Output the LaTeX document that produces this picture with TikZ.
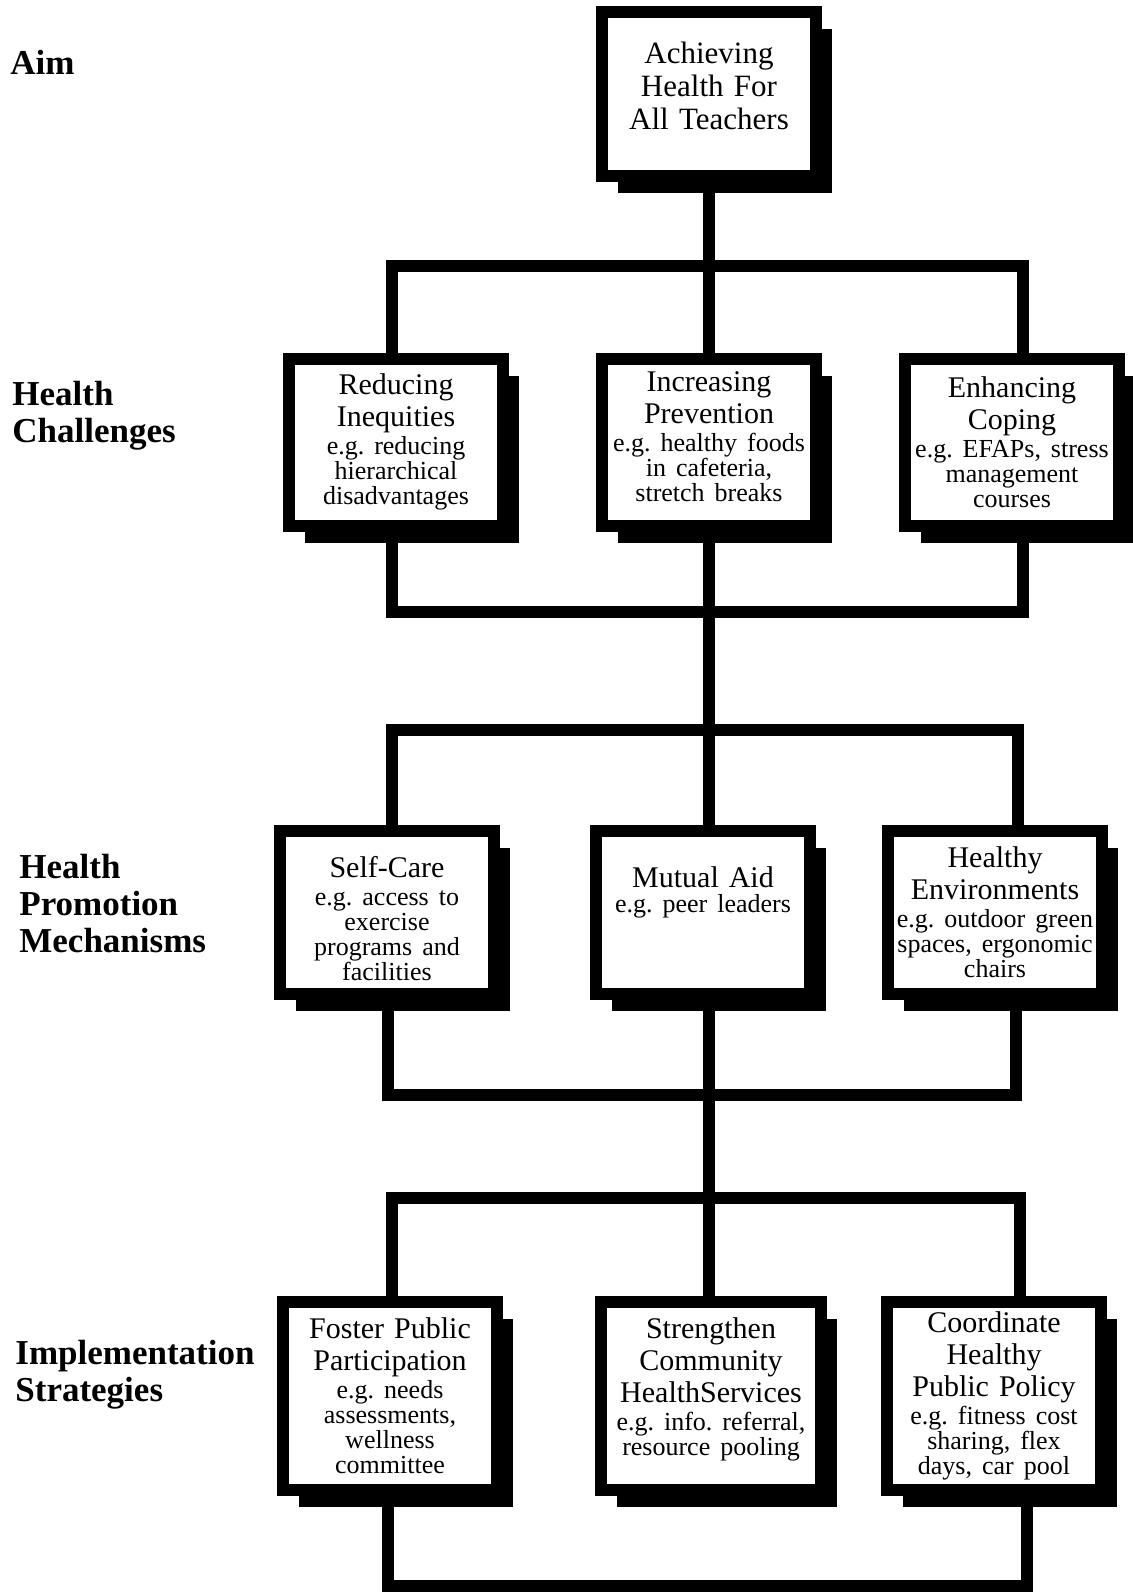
\documentclass[tikz,border=0pt]{standalone}
\usepackage{fontspec}
\setmainfont{Liberation Serif}
\usetikzlibrary{shadows}
\frenchspacing

\newcommand{\ttlfont}{\fontsize{15}{16}\selectfont}
\newcommand{\egfont}{\fontsize{13}{12.5}\selectfont}
\newcommand{\lvlfont}{\fontsize{17.5}{18.5}\selectfont\bfseries}
% extra room under the text of a box
\newcommand{\botpad}[1]{\par\vspace{#1}\null}

\begin{document}
\begin{tikzpicture}[x=0.5pt, y=-0.5pt,
    block/.style={
        draw, line width=6pt, fill=white, align=center,
        text width=104pt, minimum width=107pt, inner xsep=0pt, inner ysep=0pt,
        font=\ttlfont,
        general shadow={fill=black, shadow xshift=8pt, shadow yshift=-8.5pt}
    },
    level/.style={font=\lvlfont, align=left, inner sep=0pt, anchor=north west},
    wire/.style={line width=6pt},
]
\useasboundingbox (0,0) rectangle (1133,1595);

% ---------- level names ----------
\node[level] (lAim) at (10,50) {Aim};
\node[level] (lChal) at (12,381) {Health\\Challenges};
\node[level] (lMech) at (19,854) {Health\\Promotion\\Mechanisms};
\node[level] (lStrat) at (15,1340) {Implementation\\Strategies};

% ---------- aim ----------
\node[block, minimum height=82pt, font=\fontsize{15.5}{16.5}\selectfont] (aim) at (709,94)
    {Achieving\\ Health For\\ All Teachers\botpad{-8.5pt}};

% ---------- health challenges ----------
\node[block, minimum height=83.5pt] (red) at (396,442)
    {Reducing\\ Inequities\par\vspace{1.5pt}\egfont e.g. reducing\\ hierarchical\\ disadvantages\par};
\node[block, minimum height=83.5pt] (inc) at (709,442)
    {Increasing\\ Prevention\par\vspace{1.5pt}\egfont e.g. healthy foods\\ in cafeteria,\\ stretch breaks\botpad{-7.5pt}};
\node[block, minimum height=83.5pt] (enh) at (1012,442)
    {Enhancing\\ Coping\par\vspace{1.5pt}\egfont e.g. EFAPs, stress\\ management\\ courses\par};

% ---------- mechanisms ----------
\node[block, minimum height=81.5pt] (self) at (387,912)
    {Self-Care\par\vspace{1.5pt}\egfont e.g. access to\\ exercise\\ programs and\\ facilities\botpad{-18.5pt}};
\node[block, minimum height=81.5pt] (mut) at (703,912)
    {Mutual Aid\par\egfont e.g. peer leaders\botpad{10pt}};
\node[block, minimum height=81.5pt] (env) at (995,912)
    {Healthy\\ Environments\par\vspace{1.5pt}\egfont e.g. outdoor green\\ spaces, ergonomic\\ chairs\par};

% ---------- strategies ----------
\node[block, minimum height=94pt] (fos) at (390,1396)
    {Foster Public\\ Participation\par\vspace{1.5pt}\egfont e.g. needs\\ assessments,\\ wellness\\ committee\par};
\node[block, minimum height=94pt, minimum width=110pt] (str) at (711,1396)
    {Strengthen\\ Community\\ HealthServices\par\vspace{1.5pt}\egfont e.g. info. referral,\\ resource pooling\botpad{-3.5pt}};
\node[block, minimum height=94pt] (coo) at (994,1396)
    {Coordinate\\ Healthy\\ Public Policy\par\vspace{1.5pt}\egfont e.g. fitness cost\\ sharing, flex\\ days, car pool\par};

% ---------- connectors ----------
\coordinate (t1l) at (392,266);
\coordinate (t1r) at (1023,266);
\coordinate (b1l) at (392,612);
\coordinate (b1r) at (1023,612);
\coordinate (t2l) at (392,730);
\coordinate (t2r) at (1018,730);
\coordinate (b2l) at (388,1095);
\coordinate (b2r) at (1016,1095);
\coordinate (t3l) at (392,1198);
\coordinate (t3r) at (1020,1198);
\coordinate (b3l) at (388,1586);
\coordinate (b3r) at (1027,1586);

\draw[wire] (aim.south) -- (inc.north);
\draw[wire] (red.north -| t1l) |- (t1r) -- (enh.north -| t1r);

\draw[wire] (red.south -| b1l) |- (b1r) -- (enh.south -| b1r);
\draw[wire] (inc.south) -- (inc.south |- mut.north);
\draw[wire] (self.north -| t2l) |- (t2r) -- (env.north -| t2r);

\draw[wire] (self.south -| b2l) |- (b2r) -- (env.south -| b2r);
\draw[wire] (mut.south -| inc.south) -- (inc.south |- str.north);
\draw[wire] (fos.north -| t3l) |- (t3r) -- (coo.north -| t3r);

\draw[wire] (fos.south -| b3l) |- (b3r) -- (coo.south -| b3r);
\end{tikzpicture}
\end{document}
